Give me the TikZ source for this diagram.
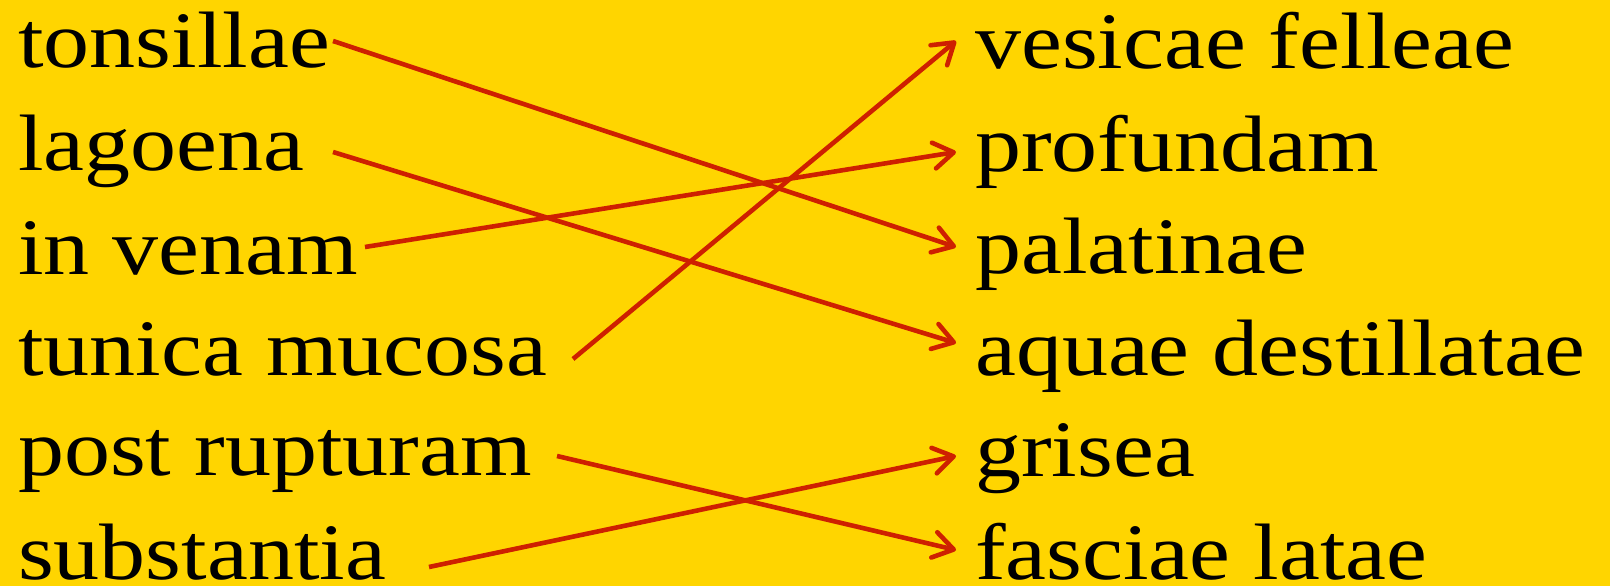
\documentclass[tikz,border=0pt]{standalone}
\usepackage{fontspec}
\setmainfont{Liberation Serif}[FakeStretch=1.15]
\usetikzlibrary{arrows.meta}
\definecolor{bggold}{RGB}{255,213,0}
\definecolor{linkred}{RGB}{206,32,0}
\begin{document}
\begin{tikzpicture}[x=1pt,y=-1pt,
  word/.style={anchor=base west,inner sep=0pt,text depth=0pt,font=\fontsize{80}{92}\selectfont},
  link/.style={draw=linkred,line width=4.6pt,-{Straight Barb[length=20pt,width=26pt,line cap=round,line join=round]}}]
\fill[bggold] (0,0) rectangle (1610,586);
\useasboundingbox (0,0) rectangle (1610,586);
% left column
\node[word] (l1) at (18,68) {tonsillae};
\node[word] (l2) at (18,170) {lagoena};
\node[word] (l3) at (18,274) {in venam};
\node[word] (l4) at (18,375) {tunica mucosa};
\node[word] (l5) at (18,475) {post rupturam};
\node[word] (l6) at (18,579) {substantia};
% right column
\node[word] (r1) at (975,69) {vesicae felleae};
\node[word] (r2) at (975,171) {profundam};
\node[word] (r3) at (975,273) {palatinae};
\node[word] (r4) at (975,375) {aquae destillatae};
\node[word] (r5) at (975,476) {grisea};
\node[word] (r6) at (975,579) {fasciae latae};
% connector ends
\coordinate (s1) at (333,41);
\coordinate (s2) at (333,152);
\coordinate (s3) at (365,247);
\coordinate (s4) at (573,359);
\coordinate (s5) at (557,456);
\coordinate (s6) at (429,567);
\coordinate (e1) at (956,41);
\coordinate (e2) at (956,152);
\coordinate (e3) at (956,247);
\coordinate (e4) at (956,343);
\coordinate (e5) at (956,456);
\coordinate (e6) at (956,550);
\draw[link] (s1) -- (e3);
\draw[link] (s2) -- (e4);
\draw[link] (s3) -- (e2);
\draw[link] (s4) -- (e1);
\draw[link] (s5) -- (e6);
\draw[link] (s6) -- (e5);
\end{tikzpicture}
\end{document}
